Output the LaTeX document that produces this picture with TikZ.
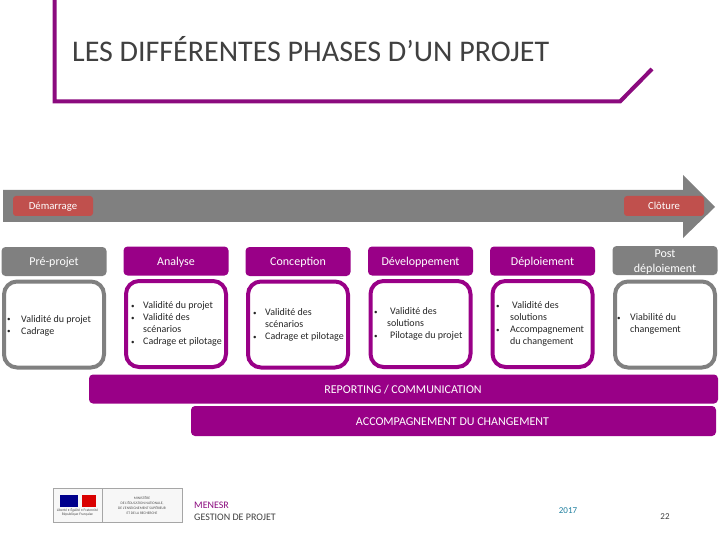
\documentclass[tikz,border=0pt]{standalone}
\usepackage{fontspec}
\setmainfont{Carlito}
\usetikzlibrary{arrows.meta,positioning,calc}
\definecolor{phasepurple}{HTML}{990087}
\definecolor{rulepurple}{HTML}{8B0A7E}
\definecolor{phasegray}{HTML}{808080}
\definecolor{milestonered}{HTML}{C0504D}
\definecolor{yearteal}{HTML}{1F7F9F}
\newcommand{\bul}[1]{\makebox[#1][l]{\raisebox{0.6pt}{\fontsize{7}{7}\selectfont•}}}
\tikzset{
    headbox/.style={rounded corners=4pt,minimum width=105pt,minimum height=29pt,inner sep=0pt,
        text=white,align=center,font=\fontsize{12}{15}\selectfont},
    headline/.style={text height=9.5pt,text depth=1pt},
    bodybox/.style={draw,line width=4pt,fill=white,rounded corners=13pt,minimum width=100pt,minimum height=86pt},
    listtext/.style={anchor=west,inner sep=0pt,align=left,text=black!85,font=\fontsize{10}{12}\selectfont},
    milestone/.style={fill=milestonered,rounded corners=3pt,minimum width=80pt,minimum height=20pt,inner sep=0pt,
        text=white,text height=9pt,text depth=1pt,font=\fontsize{10.7}{12}\selectfont},
    bandbox/.style={fill=phasepurple,rounded corners=4pt,minimum height=29pt,inner sep=0pt},
    bandtext/.style={inner sep=0pt,text=white,font=\fontsize{12}{14}\selectfont},
    foottext/.style={anchor=west,inner sep=0pt,font=\fontsize{10}{12}\selectfont},
    logotext/.style={inner sep=0pt,align=center,text=black!70,font=\fontsize{3.6}{5}\selectfont}
}
\begin{document}
\begin{tikzpicture}[x=1pt,y=-1pt]
    \useasboundingbox (0,0) rectangle (720,540);

    % Title
    \draw[rulepurple,line width=4pt] (54.5,0) -- (54.5,101.5) -- (620,101.5) -- (652,69);
    \node[anchor=west,inner sep=0pt,text=black!75,font=\fontsize{30}{34}\selectfont] (title) at (72,49.5) {LES DIFFÉRENTES PHASES D’UN PROJET};

    % Timeline
    \fill[phasegray] (3,190) -- (683,190) -- (683,175) -- (715,207) -- (683,238) -- (683,222) -- (3,222) -- cycle;
    \node[milestone] (start) at (53,206) {Démarrage};
    \node[milestone] (end) at (664,206) {Clôture};

    % Phase titles
    \node[headbox,headline,fill=phasegray] (preprojet) at (54,261.5) {Pré-projet};
    \node[headbox,headline,fill=phasepurple] (analyse) at (176,261) {Analyse};
    \node[headbox,headline,fill=phasepurple] (conception) at (298,261.5) {Conception};
    \node[headbox,headline,fill=phasepurple] (developpement) at (420.5,261) {Développement};
    \node[headbox,headline,fill=phasepurple] (deploiement) at (542.5,261) {Déploiement};
    \node[headbox,fill=phasegray] (postdeploiement) at (665,260.5) {\rule{0pt}{11.5pt}Post\\déploiement};

    % Phase contents
    \node[bodybox,draw=phasegray] (preprojetbody) at (54,324.5) {};
    \node[bodybox,draw=phasepurple] (analysebody) at (176,324) {};
    \node[bodybox,draw=phasepurple] (conceptionbody) at (298,324.5) {};
    \node[bodybox,draw=phasepurple] (developpementbody) at (420.5,324) {};
    \node[bodybox,draw=phasepurple] (deploiementbody) at (542.5,324) {};
    \node[bodybox,draw=phasegray] (postdeploiementbody) at (665,324.5) {};

    \node[listtext] (preprojetlist) at (7,325.5) {\bul{14pt}Validité du projet\\\bul{14pt}Cadrage};
    \node[listtext] (analyselist) at (131,324) {\bul{12pt}Validité du projet\\\bul{12pt}Validité des\\\hspace*{12pt}scénarios\\\bul{12pt}Cadrage et pilotage};
    \node[listtext] (conceptionlist) at (253,325) {\bul{12pt}Validité des\\\hspace*{12pt}scénarios\\\bul{12pt}Cadrage et pilotage};
    \node[listtext] (developpementlist) at (374,324) {\bul{16pt}Validité des\\\hspace*{13pt}solutions\\\bul{16pt}Pilotage du projet};
    \node[listtext] (deploiementlist) at (496,324) {\bul{16pt}Validité des\\\hspace*{14pt}solutions\\\bul{14pt}Accompagnement\\\hspace*{14pt}du changement};
    \node[listtext] (postdeploiementlist) at (617,324) {\bul{13pt}Viabilité du\\\hspace*{13pt}changement};

    % Transverse bands
    \node[bandbox,minimum width=629pt] (reporting) at (403.5,389) {};
    \node[bandtext] (reportingtext) at (403,390) {REPORTING / COMMUNICATION};
    \node[bandbox,minimum width=525pt,minimum height=30pt] (accompagnement) at (453.5,421) {};
    \node[bandtext] (accompagnementtext) at (452.5,422) {ACCOMPAGNEMENT DU CHANGEMENT};

    % Logo
    \draw[black!35,fill=black!3,line width=0.8pt] (53,488) rectangle (182,522);
    \draw[black!35,line width=0.8pt] (102,488) -- (102,522);
    \fill[blue!55!black] (60,495) rectangle (78,507);
    \fill[red!85!black] (82,495) -- (96,495) -- (96,507) -- (82,507) -- cycle;
    \node[logotext] (devise) at (77.5,510.5) {Liberté • Égalité • Fraternité};
    \node[logotext] (republique) at (77.5,514.5) {République Française};
    \node[logotext] (ministere) at (142,505.5) {MINISTÈRE\\DE L’ÉDUCATION NATIONALE,\\DE L’ENSEIGNEMENT SUPÉRIEUR\\ET DE LA RECHERCHE};

    % Footer
    \node[foottext,text=rulepurple] (menesr) at (194,505) {MENESR};
    \node[foottext,text=black!75] (gestion) at (194,517) {GESTION DE PROJET};
    \node[inner sep=0pt,text=yearteal,font=\fontsize{9}{11}\selectfont] (year) at (568,511) {2017};
    \node[inner sep=0pt,text=black!75,font=\fontsize{9}{11}\selectfont] (slidenum) at (665,517) {22};
\end{tikzpicture}
\end{document}
